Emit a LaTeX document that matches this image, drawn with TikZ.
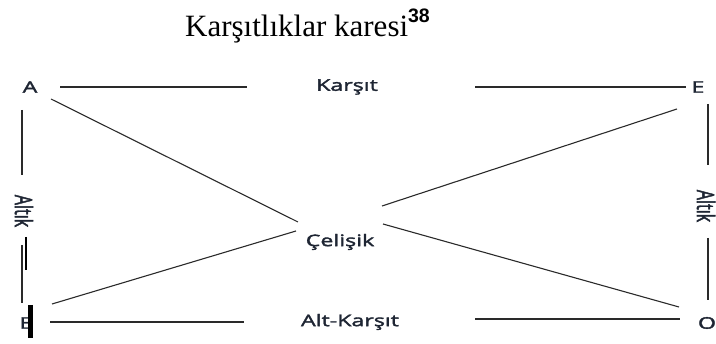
\documentclass[tikz,border=0pt]{standalone}
\usepackage{fontspec}
\setmainfont{Liberation Serif}
\newfontfamily\lab[FakeStretch=1.45,FakeBold=2.2]{Open Sans}
\newfontfamily\labr[FakeBold=2.2]{Open Sans}
\newfontfamily\supf{Liberation Sans}
\definecolor{ink}{HTML}{1E2533}
\definecolor{ln}{HTML}{2A2A2A}
\begin{document}
\begin{tikzpicture}[x=1pt,y=-1pt,
  lbl/.style={font=\lab\fontsize{16}{18}\selectfont, text=ink, inner sep=0pt},
  vlbl/.style={font=\labr\fontsize{16}{18}\selectfont, text=ink, inner sep=0pt, rotate=-90},
  seg/.style={draw=ln, line width=1.1pt},
  bar/.style={draw=black, line width=2.2pt}]
\useasboundingbox (0,0) rectangle (716,344);
% title
\node[anchor=base west, inner sep=0pt, font=\fontsize{31}{36}\selectfont] (title) at (185,37)
  {Karşıtlıklar karesi\raisebox{14pt}{\supf\bfseries\fontsize{19.5}{20}\selectfont 38}};
% corner letters
\node[lbl] (A) at (30,87) {A};
\node[lbl] (E) at (698,87) {E};
\node[lbl] (I) at (26,323) {E};
\node[lbl] (O) at (707,323) {O};
% relation labels
\node[lbl] (kar) at (347,87) {Karşıt};
\node[lbl] (alt) at (350,322) {Alt-Karşıt};
\node[lbl] (cel) at (340,242) {Çelişik};
\node[vlbl] (altL) at (24,211) {\scalebox{1}[1.5]{Altık}};
\node[vlbl] (altR) at (706,206) {\scalebox{1}[1.5]{Altık}};
% connector end points
\coordinate (t1) at (60,87);  \coordinate (t2) at (247,87);
\coordinate (t3) at (475,87); \coordinate (t4) at (686,87);
\coordinate (b1) at (50,322); \coordinate (b2) at (244,322);
\coordinate (b3) at (475,319);\coordinate (b4) at (680,319);
\coordinate (l1) at (22,110); \coordinate (l2) at (22,175);
\coordinate (l3) at (22,245); \coordinate (l4) at (22,303);
\coordinate (r1) at (708,104);\coordinate (r2) at (708,165);
\coordinate (r3) at (708,238);\coordinate (r4) at (708,300);
\coordinate (dA) at (51,99);  \coordinate (dAc) at (298,222);
\coordinate (dE) at (677,109);\coordinate (dEc) at (382,206);
\coordinate (dI) at (52,304); \coordinate (dIc) at (296,231);
\coordinate (dO) at (679,307);\coordinate (dOc) at (383,224);
\coordinate (k1) at (26,237); \coordinate (k2) at (26,270);
\coordinate (m1) at (30,305); \coordinate (m2) at (30,338);
% lines
\draw[seg] (t1) -- (t2);
\draw[seg] (t3) -- (t4);
\draw[seg] (b1) -- (b2);
\draw[seg] (b3) -- (b4);
\draw[seg] (l1) -- (l2);
\draw[seg] (l3) -- (l4);
\draw[seg] (r1) -- (r2);
\draw[seg] (r3) -- (r4);
\draw[seg] (dA) -- (dAc);
\draw[seg] (dE) -- (dEc);
\draw[seg] (dI) -- (dIc);
\draw[seg] (dO) -- (dOc);
\draw[bar, line width=1.8pt] (k1) -- (k2);
\draw[bar, line width=5pt] (m1) -- (m2);
\end{tikzpicture}
\end{document}
